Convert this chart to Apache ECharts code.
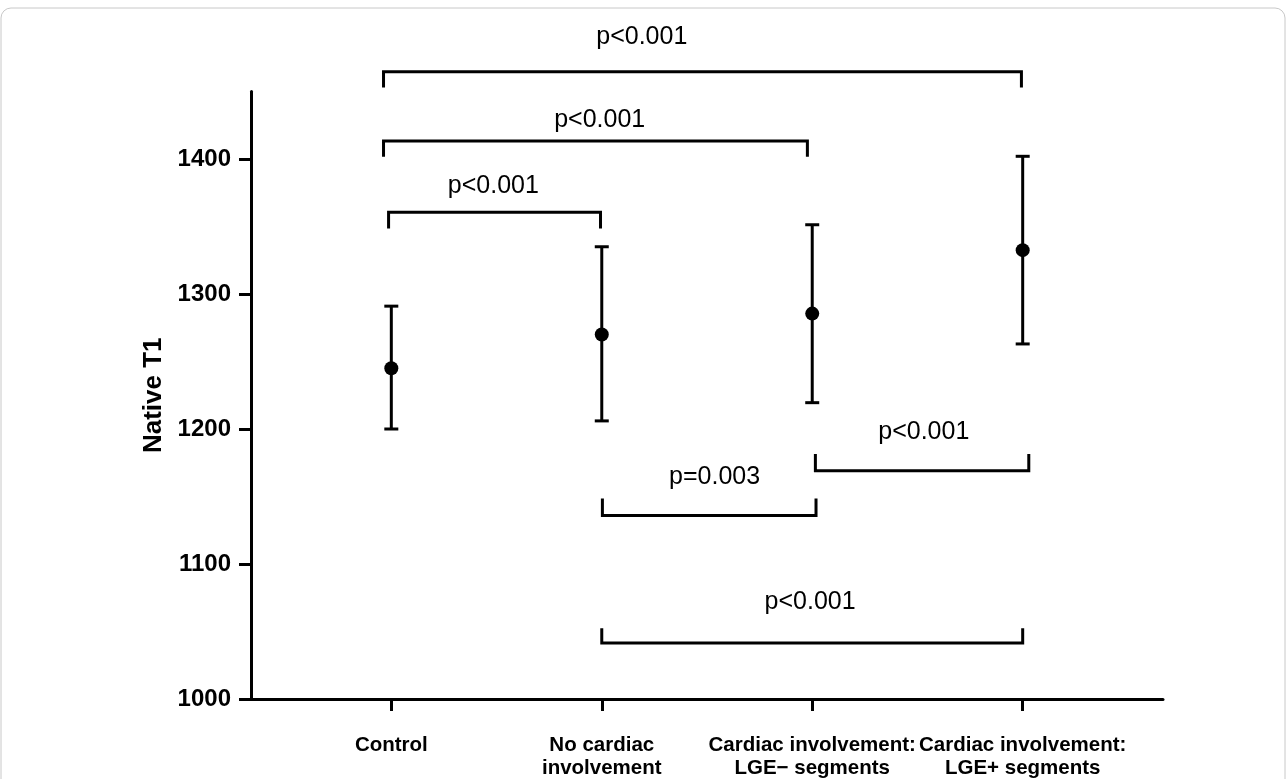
<!DOCTYPE html>
<html>
<head>
<meta charset="utf-8">
<script src="https://cdn.jsdelivr.net/npm/echarts@6/dist/echarts.min.js"></script>
<style>
  html, body { margin: 0; padding: 0; background: #fff; }
  #chart { width: 1287px; height: 779px; }
</style>
</head>
<body>
<div id="chart"></div>
<script>
// ---- data ----
const categories = ['Control', 'No cardiac\ninvolvement', 'Cardiac involvement:\nLGE\u2212 segments', 'Cardiac involvement:\nLGE+ segments'];
const categoryPos = [0, 1, 2, 3];
const means  = [1245, 1270, 1285.5, 1332.5];
const lowers = [1200, 1206, 1219.5, 1263];
const uppers = [1291, 1335, 1351.3, 1402];
const yTicks = [1000, 1100, 1200, 1300, 1400];

// significance brackets (x in category units, y in Native T1 units)
const bracketFrom  = [-0.037, -0.037, -0.013, 1.003, 2.015, 1.0];
const bracketTo    = [2.994, 1.977, 0.994, 2.018, 3.029, 3.0];
const bracketLevel = [1464.7, 1413.3, 1360.5, 1136.0, 1169.1, 1041.5];
const bracketTip   = [1452.9, 1401.7, 1348.6, 1148.6, 1181.5, 1052.4];
const pLabels      = ['p<0.001', 'p<0.001', 'p<0.001', 'p=0.003', 'p<0.001', 'p<0.001'];
const pLabelX      = [1.19, 0.99, 0.485, 1.536, 2.53, 1.99];
const pLabelY      = [1490.6, 1428.9, 1380.2, 1164.7, 1197.4, 1071.6];

const FONT = '"Liberation Sans", Arial, Helvetica, sans-serif';

const chart = echarts.init(document.getElementById('chart'), null, { renderer: 'canvas' });

const bracketSeries = bracketFrom.map((x1, i) => ({
  type: 'line',
  data: [
    [x1, bracketTip[i]],
    [x1, bracketLevel[i]],
    [bracketTo[i], bracketLevel[i]],
    [bracketTo[i], bracketTip[i]]
  ],
  symbol: 'none',
  clip: false,
  silent: true,
  lineStyle: { color: '#000', width: 3, join: 'miter', cap: 'butt' },
  z: 3
}));

const option = {
  animation: false,
  backgroundColor: '#fff',
  grid: { left: 251, right: 124, top: 91.5, bottom: 80, containLabel: false, outerBoundsMode: 'none' },
  xAxis: {
    type: 'value',
    min: -0.6667,
    max: 3.6667,
    splitLine: { show: false },
    axisLine: { show: true, onZero: false, lineStyle: { color: '#000', width: 3 } },
    axisTick: { show: true, customValues: categoryPos, length: 12, lineStyle: { color: '#000', width: 3 } },
    axisLabel: {
      show: true,
      customValues: categoryPos,
      formatter: v => categories[Math.round(v)],
      color: '#000',
      fontFamily: FONT,
      fontWeight: 'bold',
      fontSize: 20.5,
      lineHeight: 23,
      margin: 35,
      align: 'center'
    }
  },
  yAxis: {
    type: 'value',
    min: 1000,
    max: 1450,
    name: 'Native T1',
    nameLocation: 'middle',
    nameGap: 84,
    nameTextStyle: { color: '#000', fontFamily: FONT, fontWeight: 'bold', fontSize: 26 },
    splitLine: { show: false },
    axisLine: { show: true, onZero: false, lineStyle: { color: '#000', width: 3 } },
    axisTick: { show: true, customValues: yTicks, length: 12, lineStyle: { color: '#000', width: 3 } },
    axisLabel: {
      show: true,
      customValues: yTicks,
      formatter: v => String(v),
      color: '#000',
      fontFamily: FONT,
      fontWeight: 'bold',
      fontSize: 24,
      margin: 20
    }
  },
  graphic: [{
    type: 'rect',
    shape: { x: 1, y: 8, width: 1284, height: 800, r: 10 },
    style: { fill: 'none', stroke: '#c8c8c8', lineWidth: 1 },
    silent: true,
    z: 100
  }],
  series: [
    {
      type: 'custom',
      name: 'errorbars',
      clip: false,
      data: categoryPos.map((x, i) => [x, lowers[i], uppers[i]]),
      renderItem: function (params, api) {
        const x = api.value(0);
        const lo = api.coord([x, api.value(1)]);
        const hi = api.coord([x, api.value(2)]);
        const half = 7;
        const st = { stroke: '#000', lineWidth: 3, fill: 'none' };
        return {
          type: 'group',
          children: [
            { type: 'line', shape: { x1: lo[0], y1: lo[1], x2: hi[0], y2: hi[1] }, style: st },
            { type: 'line', shape: { x1: hi[0] - half, y1: hi[1], x2: hi[0] + half, y2: hi[1] }, style: st },
            { type: 'line', shape: { x1: lo[0] - half, y1: lo[1], x2: lo[0] + half, y2: lo[1] }, style: st }
          ]
        };
      },
      z: 4
    },
    {
      type: 'scatter',
      name: 'mean',
      data: categoryPos.map((x, i) => [x, means[i]]),
      symbol: 'circle',
      symbolSize: 14,
      itemStyle: { color: '#000', opacity: 1 },
      z: 5
    },
    ...bracketSeries,
    {
      type: 'scatter',
      name: 'pvalues',
      clip: false,
      silent: true,
      symbolSize: 1,
      itemStyle: { color: 'rgba(0,0,0,0)' },
      data: pLabels.map((t, i) => ({ name: t, value: [pLabelX[i], pLabelY[i]] })),
      label: {
        show: true,
        position: 'inside',
        formatter: '{b}',
        color: '#000000',
        opacity: 1,
        textBorderWidth: 0,
        fontFamily: FONT,
        fontSize: 25,
        fontWeight: 'normal'
      },
      labelLayout: { hideOverlap: false },
      z: 6
    }
  ]
};

chart.setOption(option);
</script>
</body>
</html>
